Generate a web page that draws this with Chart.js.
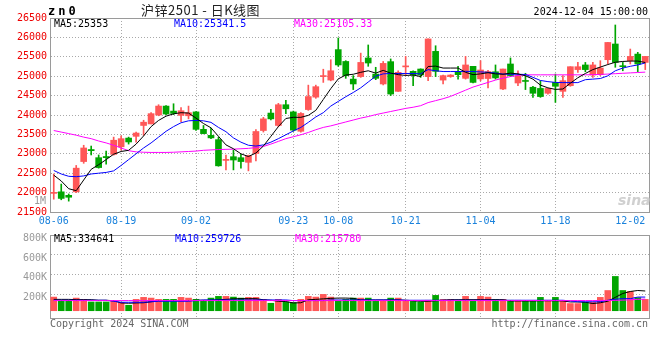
<!DOCTYPE html>
<html>
<head>
<meta charset="utf-8">
<script src="https://cdn.jsdelivr.net/npm/chart.js@4.4.1/dist/chart.umd.min.js"></script>
<style>
  body { margin: 0; background: #fff; }
  #wrap { position: relative; width: 660px; height: 360px; overflow: hidden; background: #fff; }
  canvas { position: absolute; left: 0; }
  .t { position: absolute; white-space: nowrap; font-family: 'DejaVu Sans Mono', monospace; font-size: 10px; line-height: 10px; }
</style>
</head>
<body>
<div id="wrap">
  <canvas id="kline" width="660" height="232" style="top:0;width:660px;height:232px"></canvas>
  <canvas id="vol" width="660" height="134" style="top:226px;width:660px;height:134px"></canvas>

  <div class="t" style="left:48px;top:5px;font-size:12px;line-height:12px;font-weight:bold;letter-spacing:3px">zn0</div>
  <div class="t" style="left:141px;top:3px;font-family:'Noto Sans CJK SC',sans-serif;font-size:13px;line-height:13px;letter-spacing:0.5px;color:#222">沪锌2501 - 日K线图</div>
  <div class="t" style="right:12px;top:7px;color:#000">2024-12-04 15:00:00</div>

  <div class="t" style="left:54px;top:19px;color:#000">MA5:25353</div>
  <div class="t" style="left:174px;top:19px;color:#0000ff">MA10:25341.5</div>
  <div class="t" style="left:294px;top:19px;color:#ff00ff">MA30:25105.33</div>

  <div class="t" style="right:614px;top:196px;color:#999">1M</div>
  <div class="t" style="left:618px;top:193px;font-family:'DejaVu Sans',sans-serif;font-size:14px;line-height:14px;font-style:italic;font-weight:bold;color:#d0d0d0">sina</div>

  <div class="t" style="left:54px;top:234px;color:#000">MA5:334641</div>
  <div class="t" style="left:175px;top:234px;color:#0000ff">MA10:259726</div>
  <div class="t" style="left:295px;top:234px;color:#ff00ff">MA30:215780</div>

  <div class="t" style="left:50px;top:319px;color:#666">Copyright 2024 SINA.COM</div>
  <div class="t" style="right:12px;top:319px;color:#666">http://finance.sina.com.cn</div>
</div>

<script>
const dates = [
  '08-06','08-07','08-08','08-09','08-12','08-13','08-14','08-15','08-16','08-19',
  '08-20','08-21','08-22','08-23','08-26','08-27','08-28','08-29','08-30','09-02',
  '09-03','09-04','09-05','09-06','09-09','09-10','09-11','09-12','09-13','09-18',
  '09-19','09-20','09-23','09-24','09-25','09-26','09-27','09-30','10-08','10-09',
  '10-10','10-11','10-14','10-15','10-16','10-17','10-18','10-21','10-22','10-23',
  '10-24','10-25','10-28','10-29','10-30','10-31','11-01','11-04','11-05','11-06',
  '11-07','11-08','11-11','11-12','11-13','11-14','11-15','11-18','11-19','11-20',
  '11-21','11-22','11-25','11-26','11-27','11-28','11-29','12-02','12-03','12-04'
];
const tickDates = ['08-06','08-19','09-02','09-23','10-08','10-21','11-04','11-18','12-02'];
const gridDates = ['08-19','09-02','09-23','10-08','10-21','11-04','11-18'];
const priceTicks = [21500, 22000, 22500, 23000, 23500, 24000, 24500, 25000, 25500, 26000, 26500];
const volTicks = [200000, 400000, 600000, 800000];

const opens = [
  21980,22020,21930,22020,22800,23110,22900,22930,22985,23180,
  23405,23450,23730,23770,24000,24230,24100,23990,23980,24080,
  23630,23475,23365,22830,22925,22900,22780,23010,23600,24050,
  23730,24265,24080,23580,24140,24460,24990,24900,25685,25380,
  24925,24990,25470,25055,24800,25375,24610,25240,25125,25185,
  24990,25640,24900,24990,25100,24945,25255,24930,24940,25115,
  24670,25315,24825,24880,24715,24685,24560,24840,24610,24755,
  25170,25290,25030,25040,25425,25830,25260,25400,25570,25355
];
const highs = [
  22480,22220,21965,22700,23220,23200,22970,23070,23430,23460,
  23430,23560,23865,24060,24265,24240,24290,24190,24230,24090,
  23730,23660,23430,22965,23095,22985,22965,23625,23940,24145,
  24300,24375,24100,24060,24770,24770,25180,25425,25985,25400,
  25015,25595,25805,25230,25380,25445,25140,25510,25140,25190,
  25960,25785,25030,25040,25255,25510,25255,25400,25150,25290,
  25185,25470,25140,25075,24740,24885,24690,25055,25015,25245,
  25355,25355,25355,25400,25870,26320,25355,25700,25615,25510
];
const lows = [
  21830,21815,21780,22000,22755,22970,22630,22730,22965,23095,
  23250,23300,23475,23770,23980,24010,24010,23830,23900,23600,
  23515,23390,22680,22585,22585,22630,22560,22815,23560,23870,
  23700,24035,23580,23560,24120,24430,24840,24880,25255,24945,
  24655,24970,25255,24910,24775,24500,24610,25015,24755,24970,
  24885,24990,24800,24970,24925,24925,24825,24880,24700,24925,
  24655,24990,24755,24655,24455,24455,24540,24325,24455,24740,
  25100,25115,24970,25015,25315,25230,25140,25315,25115,25170
];
const closes = [
  22000,21850,21880,22630,23150,23080,22645,22900,23350,23390,
  23305,23535,23815,24035,24230,24025,24040,24110,24060,23630,
  23520,23410,22690,22850,22840,22800,22950,23575,23900,23900,
  24265,24160,23610,24040,24475,24730,25010,25140,25290,25015,
  24800,25355,25340,24945,25330,24540,25100,25255,25030,25030,
  25960,25125,25015,25030,25040,25290,24840,25160,25120,24955,
  25185,25015,25015,24865,24560,24475,24685,24740,24885,25245,
  25245,25170,25290,25210,25870,25355,25245,25510,25315,25510
];
const ma5 = [
  22450,22300,22100,22050,22325,22600,22720,22850,22990,23060,
  23090,23250,23460,23700,23860,23970,24030,24060,24050,23920,
  23780,23670,23450,23230,23130,23000,22930,23020,23200,23450,
  23700,23910,23940,23940,23990,24120,24400,24680,24930,25030,
  25050,25100,25140,25080,25150,25080,25040,25020,25030,24990,
  25250,25260,25210,25210,25210,25100,25040,25060,25090,25060,
  25050,25080,25060,25010,24925,24770,24700,24660,24670,24820,
  24960,25070,25170,25235,25300,25360,25380,25390,25390,25353
];
const ma10 = [
  22570,22480,22420,22410,22430,22480,22500,22520,22560,22700,
  22850,23000,23150,23280,23430,23580,23700,23800,23850,23860,
  23850,23810,23680,23570,23410,23300,23220,23200,23230,23300,
  23390,23490,23590,23680,23810,23950,24060,24230,24350,24470,
  24580,24700,24850,25000,25060,25070,25070,25070,25070,25060,
  25170,25140,25120,25120,25120,25125,25120,25110,25100,25080,
  25055,25050,25050,25045,24970,24890,24860,24840,24835,24835,
  24835,24910,24925,24940,25010,25140,25210,25255,25290,25342
];
const ma30 = [
  23600,23560,23520,23480,23430,23390,23330,23280,23220,23150,
  23080,23050,23040,23035,23035,23035,23040,23050,23060,23070,
  23090,23100,23110,23115,23120,23130,23140,23160,23190,23250,
  23320,23390,23440,23490,23550,23620,23680,23720,23770,23820,
  23870,23920,23960,24010,24050,24090,24130,24170,24200,24240,
  24320,24370,24420,24480,24560,24640,24720,24780,24840,24900,
  24950,24990,25020,25035,25035,25035,25035,25035,25035,25035,
  25035,25035,25040,25045,25055,25065,25075,25085,25095,25105
];
const volumes = [
  177000,145000,145000,167000,154000,128000,128000,128000,135000,122000,
  95000,154000,174000,167000,154000,154000,154000,174000,167000,154000,
  142000,167000,184000,184000,177000,167000,174000,174000,154000,115000,
  154000,128000,122000,154000,184000,177000,204000,177000,138000,154000,
  167000,167000,167000,138000,138000,167000,167000,145000,138000,128000,
  145000,194000,154000,154000,138000,184000,138000,184000,177000,154000,
  154000,145000,145000,138000,138000,174000,145000,174000,138000,112000,
  112000,125000,125000,174000,243000,384000,243000,233000,171000,154000
];
const volMa5 = [
  154000,154000,154000,151000,151000,151000,145000,145000,140000,118000,
  115000,118000,120000,130000,140000,142000,142000,142000,142000,145000,
  145000,145000,150000,154000,159000,161000,161000,161000,150000,145000,
  135000,132000,118000,120000,150000,154000,159000,164000,167000,167000,
  164000,148000,148000,148000,148000,148000,148000,145000,140000,135000,
  135000,140000,145000,150000,151000,151000,151000,151000,151000,151000,
  150000,138000,138000,138000,138000,140000,140000,140000,138000,128000,
  128000,125000,112000,120000,135000,174000,213000,233000,243000,238000
];
const volMa10 = [
  145000,145000,145000,145000,145000,145000,145000,145000,135000,125000,
  125000,125000,125000,130000,135000,135000,135000,135000,135000,142000,
  148000,148000,148000,148000,148000,148000,148000,148000,148000,148000,
  148000,148000,142000,142000,142000,142000,142000,148000,148000,148000,
  148000,148000,148000,148000,148000,148000,148000,145000,145000,145000,
  145000,145000,145000,145000,145000,145000,145000,145000,145000,145000,
  145000,145000,145000,145000,145000,145000,145000,145000,145000,138000,
  130000,130000,130000,130000,145000,155000,161000,161000,177000,177000
];
const volMa30 = [
  142000,142000,142000,142000,142000,142000,142000,142000,142000,142000,
  142000,142000,142000,142000,142000,142000,142000,142000,142000,142000,
  142000,142000,142000,142000,142000,142000,142000,142000,142000,142000,
  142000,142000,142000,142000,142000,142000,142000,142000,142000,142000,
  142000,142000,142000,142000,142000,142000,142000,142000,142000,142000,
  142000,142000,142000,142000,142000,142000,142000,142000,142000,142000,
  142000,142000,142000,142000,142000,142000,142000,142000,142000,142000,
  142000,142000,142000,143000,143000,144000,146000,150000,154000,157000
];

const RED = '#ff5757';
const GREEN = '#00a600';
const GRID = '#a9a9a9';
const FRAME = '#9a9a9a';
const colors = closes.map((c, i) => c >= opens[i] ? RED : GREEN);

Chart.defaults.font.family = "'DejaVu Sans Mono', monospace";
Chart.defaults.font.size = 10;
Chart.defaults.animation = false;
Chart.defaults.plugins.legend.display = false;
Chart.defaults.plugins.tooltip.enabled = false;

const gridX = ctx => gridDates.includes(dates[ctx.index]) ? GRID : 'rgba(0,0,0,0)';

const maLine = (data, color, order) => ({
  type: 'line', data: data, borderColor: color, borderWidth: 1,
  pointRadius: 0, fill: false, tension: 0, order: order
});

// top + right frame lines, taking no room
const frameTop = {
  type: 'category', position: 'top',
  grid: { display: false }, ticks: { display: false },
  border: { display: true, color: FRAME },
  afterFit: s => { s.height = 0; }
};
const frameRight = {
  position: 'right',
  grid: { display: false }, ticks: { display: false },
  border: { display: true, color: FRAME },
  afterFit: s => { s.width = 0; }
};

// price chart
new Chart(document.getElementById('kline'), {
  type: 'bar',
  data: {
    labels: dates,
    datasets: [
      maLine(ma5, '#000000', 1),
      maLine(ma10, '#0000ff', 2),
      maLine(ma30, '#ff00ff', 3),
      {
        label: 'body',
        data: opens.map((o, i) => [o, closes[i]]),
        backgroundColor: colors,
        barThickness: 6, minBarLength: 1, grouped: false, order: 5
      },
      {
        label: 'wick',
        data: lows.map((l, i) => [l, highs[i]]),
        backgroundColor: colors,
        barThickness: 1, grouped: false, order: 6
      }
    ]
  },
  options: {
    responsive: false,
    devicePixelRatio: 1,
    layout: { padding: { top: 18, right: 11, left: 0, bottom: 0 } },
    scales: {
      x: {
        offset: true,
        grid: { color: gridX, offset: false, drawTicks: false },
        border: { display: true, color: FRAME, dash: [1, 2] },
        ticks: {
          autoSkip: false, maxRotation: 0, minRotation: 0, padding: 3,
          color: '#1a82dc',
          callback: (v, i) => tickDates.includes(dates[i]) ? dates[i] : ''
        },
        afterFit: s => { s.height = 20; }
      },
      y: {
        min: 21500, max: 26500,
        afterBuildTicks: s => { s.ticks = priceTicks.map(v => ({ value: v })); },
        grid: { color: GRID, drawTicks: false },
        border: { display: true, color: FRAME, dash: [1, 2] },
        ticks: { color: '#ee0000', padding: 3, callback: v => String(v) },
        afterFit: s => { s.width = 50; }
      },
      xTop: frameTop,
      yRight: Object.assign({ min: 21500, max: 26500 }, frameRight)
    }
  }
});

// volume chart
new Chart(document.getElementById('vol'), {
  type: 'bar',
  data: {
    labels: dates,
    datasets: [
      maLine(volMa5, '#000000', 3),
      maLine(volMa10, '#0000ff', 2),
      maLine(volMa30, '#ff00ff', 1),
      {
        label: 'volume',
        data: volumes,
        base: 40000,
        backgroundColor: colors,
        barThickness: 6, grouped: false, order: 5
      }
    ]
  },
  options: {
    responsive: false,
    devicePixelRatio: 1,
    layout: { padding: { top: 8, right: 11, left: 0, bottom: 0 } },
    scales: {
      x: {
        offset: true,
        grid: { color: gridX, offset: false, drawTicks: false },
        border: { display: true, color: FRAME, dash: [1, 2] },
        ticks: { display: false, autoSkip: false, maxRotation: 0 },
        afterFit: s => { s.height = 42; }
      },
      y: {
        min: -33000, max: 800000,
        afterBuildTicks: s => { s.ticks = volTicks.map(v => ({ value: v })); },
        grid: { color: GRID, drawTicks: false },
        border: { display: true, color: FRAME, dash: [1, 2] },
        ticks: { color: '#999999', padding: 3, labelOffset: 3, callback: v => (v / 1000) + 'K' },
        afterFit: s => { s.width = 50; }
      },
      xTop: frameTop,
      yRight: Object.assign({ min: -33000, max: 800000 }, frameRight)
    }
  }
});
</script>
</body>
</html>
